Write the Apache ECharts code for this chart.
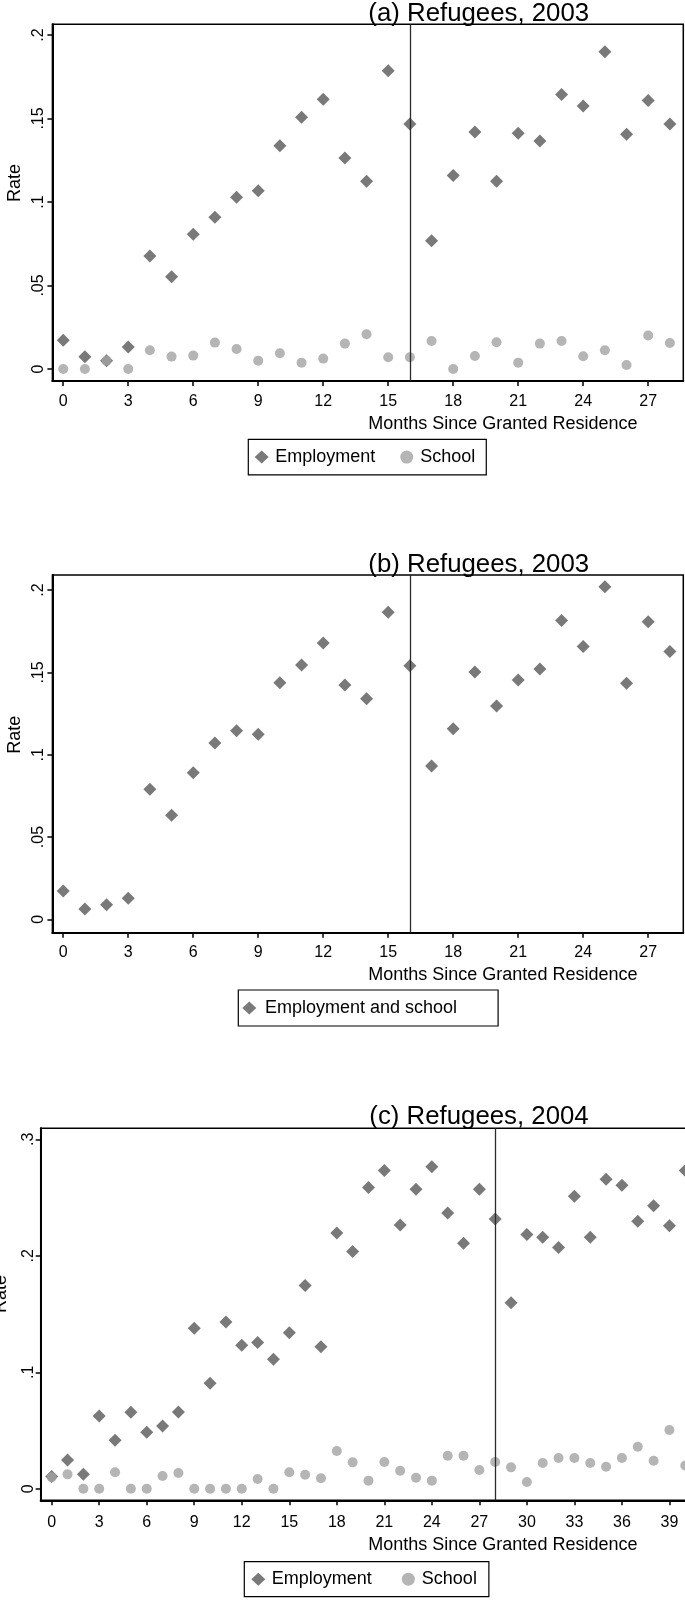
<!DOCTYPE html>
<html>
<head>
<meta charset="utf-8">
<script src="https://cdn.jsdelivr.net/npm/echarts@6/dist/echarts.min.js"></script>
<style>
  html, body { margin: 0; padding: 0; background: #fff; }
  #chart { width: 685px; height: 1601px; }
</style>
</head>
<body>
<div id="chart"></div>
<script>
// Monthly rates, indexed by months since residence was granted (0, 1, 2, ...)
const employmentA = [0.0172, 0.0073, 0.0050, 0.0132, 0.0677, 0.0553, 0.0807, 0.0908, 0.1028, 0.1068,
  0.1337, 0.1507, 0.1615, 0.1263, 0.1124, 0.1786, 0.1467, 0.0768, 0.1158, 0.1419,
  0.1124, 0.1411, 0.1365, 0.1643, 0.1575, 0.1900, 0.1405, 0.1607, 0.1467];
const schoolA = [0, 0, 0.0050, 0, 0.0112, 0.0074, 0.0080, 0.0158, 0.0120, 0.0050,
  0.0094, 0.0038, 0.0062, 0.0152, 0.0208, 0.0070, 0.0070, 0.0168, 0, 0.0078,
  0.0160, 0.0038, 0.0152, 0.0168, 0.0076, 0.0112, 0.0024, 0.0200, 0.0156];
const employmentSchoolB = [0.0172, 0.0063, 0.0089, 0.0128, 0.0790, 0.0632, 0.0891, 0.1071, 0.1146, 0.1124,
  0.1438, 0.1545, 0.1679, 0.1423, 0.1340, 0.1865, 0.1541, 0.0931, 0.1158, 0.1502,
  0.1296, 0.1454, 0.1521, 0.1816, 0.1658, 0.2020, 0.1434, 0.1808, 0.1628];
const employmentC = [0.0105, 0.0247, 0.0125, 0.0625, 0.0416, 0.0657, 0.0485, 0.0539, 0.0660, 0.1378,
  0.0906, 0.1432, 0.1232, 0.1255, 0.1112, 0.1340, 0.1744, 0.1220, 0.2196, 0.2036,
  0.2585, 0.2731, 0.2264, 0.2571, 0.2765, 0.2367, 0.2107, 0.2571, 0.2316, 0.1597,
  0.2182, 0.2159, 0.2070, 0.2511, 0.2159, 0.2657, 0.2605, 0.2296, 0.2430, 0.2257, 0.2731];
const schoolC = [0.0099, 0.0124, 0, 0, 0.0142, 0, 0, 0.0110, 0.0136, 0,
  0, 0, 0, 0.0084, 0, 0.0142, 0.0121, 0.0090, 0.0324, 0.0227,
  0.0070, 0.0230, 0.0155, 0.0095, 0.0070, 0.0284, 0.0284, 0.0161, 0.0230, 0.0184,
  0.0058, 0.0221, 0.0264, 0.0264, 0.0221, 0.0190, 0.0264, 0.0361, 0.0241, 0.0505, 0.0200];

// Axis ticks and reference months
const xTicksAB = [0, 3, 6, 9, 12, 15, 18, 21, 24, 27];
const xTicksC = [0, 3, 6, 9, 12, 15, 18, 21, 24, 27, 30, 33, 36, 39];
const yTicksAB = [0, 0.05, 0.1, 0.15, 0.2];
const yTicksC = [0, 0.1, 0.2, 0.3];
const cutoffAB = 16;
const cutoffC = 28;

// Text
const panelTitles = ['(a) Refugees, 2003', '(b) Refugees, 2003', '(c) Refugees, 2004'];
const xTitle = 'Months Since Granted Residence';
const yTitle = 'Rate';
const nameEmp = 'Employment';
const nameSchool = 'School';
const nameBoth = 'Employment and school';

// ---- styling / layout ----
const FONT = 'Liberation Sans, Arial, sans-serif';
const DARK = '#585858';
const LIGHT = '#a3a3a3';

const panels = [
  { grid: { left: 52.4, top: 24.3, width: 630.9, height: 356.7 }, x: [-0.5, 28.62], y: [-0.0072, 0.2064],
    xTicks: xTicksAB, yTicks: yTicksAB, yMargin: 6, xMargin: 13,
    titleY: 14, titleX: 368.3, rate: [15.5, 183], months: 424.3 },
  { grid: { left: 52.4, top: 575, width: 630.9, height: 357.7 }, x: [-0.5, 28.62], y: [-0.0081, 0.2092],
    xTicks: xTicksAB, yTicks: yTicksAB, yMargin: 6, xMargin: 12,
    titleY: 564.6, titleX: 368.3, rate: [15.5, 734.7], months: 975 },
  { grid: { left: 40.7, top: 1128.3, width: 671.5, height: 372 }, x: [-0.694, 41.7], y: [-0.00987, 0.3094],
    xTicks: xTicksC, yTicks: yTicksC, yMargin: 4, xMargin: 14,
    titleY: 1117.3, titleX: 369.3, rate: [1.5, 1294], months: 1545 }
];

const fmtRate = v => (v === 0 ? '0' : String(+v.toFixed(2)).replace(/^0/, ''));
const pairs = vals => vals.map((v, i) => [i, v]);

const grids = [], xAxes = [], yAxes = [], graphics = [];
panels.forEach((p, i) => {
  grids.push(Object.assign({ show: true, borderColor: '#000', borderWidth: 1.5,
    containLabel: false, outerBoundsMode: 'none', backgroundColor: 'transparent' }, p.grid));
  xAxes.push({
    type: 'value', gridIndex: i, min: p.x[0], max: p.x[1],
    axisLine: { show: true, onZero: false, lineStyle: { color: '#000', width: 2 } },
    axisTick: { show: true, inside: false, length: 5, customValues: p.xTicks, lineStyle: { color: '#000', width: 1.5 } },
    axisLabel: { show: true, customValues: p.xTicks, margin: p.xMargin, color: '#000',
      fontFamily: FONT, fontSize: 16, hideOverlap: false },
    splitLine: { show: false }
  });
  yAxes.push({
    type: 'value', gridIndex: i, min: p.y[0], max: p.y[1],
    axisLine: { show: true, onZero: false, lineStyle: { color: '#000', width: 2 } },
    axisTick: { show: true, inside: false, length: 5, customValues: p.yTicks, lineStyle: { color: '#000', width: 1.5 } },
    axisLabel: { show: true, customValues: p.yTicks, rotate: 90, margin: p.yMargin, color: '#000',
      fontFamily: FONT, fontSize: 16, formatter: fmtRate, hideOverlap: false },
    splitLine: { show: false }
  });
  graphics.push({ type: 'text', x: p.titleX, y: p.titleY, silent: true,
    style: { text: panelTitles[i], fontFamily: FONT, fontSize: 25.8, fill: '#000', align: 'left', verticalAlign: 'middle' } });
  graphics.push({ type: 'text', x: 368.3, y: p.months, silent: true,
    style: { text: xTitle, fontFamily: FONT, fontSize: 18, fill: '#000', align: 'left', verticalAlign: 'middle' } });
  graphics.push({ type: 'text', x: p.rate[0], y: p.rate[1], rotation: Math.PI / 2, silent: true,
    style: { text: yTitle, fontFamily: FONT, fontSize: 18, fill: '#000', align: 'center', verticalAlign: 'middle' } });
});

const cutLine = value => ({
  silent: true, symbol: 'none', animation: false,
  label: { show: false },
  lineStyle: { color: '#2b2b2b', width: 1.3, type: 'solid' },
  data: [{ xAxis: value }]
});

const empStyle = { symbol: 'diamond', symbolSize: 13, itemStyle: { color: DARK } };
const schoolStyle = { symbol: 'circle', symbolSize: 10, itemStyle: { color: LIGHT } };

const series = [
  Object.assign({ type: 'scatter', name: nameEmp, xAxisIndex: 0, yAxisIndex: 0, data: pairs(employmentA), markLine: cutLine(cutoffAB) }, empStyle),
  Object.assign({ type: 'scatter', name: nameSchool, xAxisIndex: 0, yAxisIndex: 0, data: pairs(schoolA) }, schoolStyle),
  Object.assign({ type: 'scatter', name: nameBoth, xAxisIndex: 1, yAxisIndex: 1, data: pairs(employmentSchoolB), markLine: cutLine(cutoffAB) }, empStyle),
  Object.assign({ type: 'scatter', name: nameEmp, xAxisIndex: 2, yAxisIndex: 2, data: pairs(employmentC), markLine: cutLine(cutoffC) }, empStyle),
  Object.assign({ type: 'scatter', name: nameSchool, xAxisIndex: 2, yAxisIndex: 2, data: pairs(schoolC) }, schoolStyle)
];
series.forEach(s => { s.emphasis = { disabled: true }; s.clip = true; });

const legendBase = {
  orient: 'horizontal', selectedMode: false, borderColor: '#000', borderWidth: 1.2, borderRadius: 0,
  itemWidth: 14, itemHeight: 13, symbolKeepAspect: true
};
const legendText = padLeft => ({ fontFamily: FONT, fontSize: 18, color: '#000', padding: [0, 0, 0, padLeft] });
const legends = [
  Object.assign({}, legendBase, { left: 248.3, top: 439.3, itemGap: 25, padding: [8.8, 11, 8.8, 6.4],
    textStyle: legendText(1.5),
    data: [{ name: nameEmp, icon: 'diamond' }, { name: nameSchool, icon: 'circle' }] }),
  Object.assign({}, legendBase, { left: 238.3, top: 990, itemGap: 20, padding: [9, 41, 9, 4],
    textStyle: legendText(3.7),
    data: [{ name: nameBoth, icon: 'diamond' }] }),
  Object.assign({}, legendBase, { left: 244.3, top: 1561.7, itemGap: 30, padding: [8.5, 12, 8.5, 7],
    textStyle: legendText(1.5),
    data: [{ name: nameEmp, icon: 'diamond' }, { name: nameSchool, icon: 'circle' }] })
];

const chart = echarts.init(document.getElementById('chart'), null, { renderer: 'canvas' });
chart.setOption({
  animation: false,
  backgroundColor: '#fff',
  textStyle: { fontFamily: FONT },
  grid: grids,
  xAxis: xAxes,
  yAxis: yAxes,
  legend: legends,
  graphic: graphics,
  series: series
});
</script>
</body>
</html>
